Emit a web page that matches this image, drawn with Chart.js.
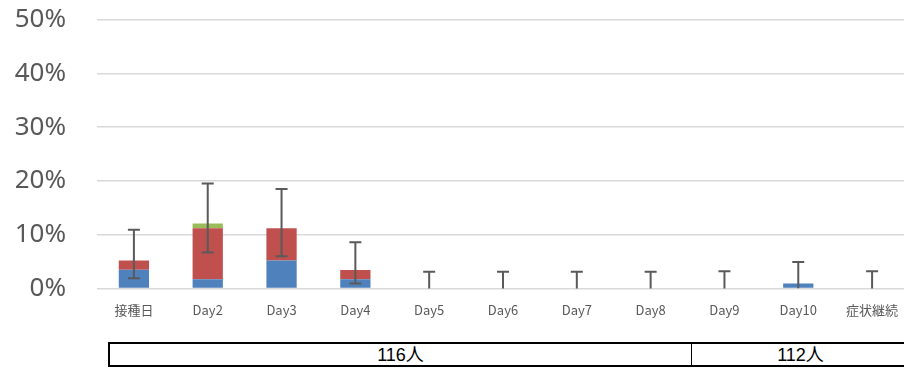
<!DOCTYPE html>
<html>
<head>
<meta charset="utf-8">
<script src="https://cdn.jsdelivr.net/npm/chart.js@4"></script>
<style>
  html, body { margin: 0; padding: 0; background: #fff; overflow: hidden; width: 904px; height: 368px; }
  #wrap { position: absolute; left: 0; top: -27px; width: 912px; height: 362px; }
  #box { position: absolute; left: 108px; top: 342px; width: 799px; height: 21px;
         border: 2px solid #000; box-sizing: content-box; display: flex;
         font-family: "Liberation Sans", "Noto Sans CJK JP", sans-serif; font-size: 18px; color: #000; }
  #box div { display: flex; align-items: center; justify-content: center; line-height: 1; }
  #c1 { width: 581px; border-right: 1px solid #000; }
  #c2 { flex: 1; }
</style>
</head>
<body>
<div id="wrap"><canvas id="chart"></canvas></div>
<div id="box"><div id="c1">116人</div><div id="c2">112人</div></div>
<script>
// Categories (day after vaccination)
const categories = ['接種日', 'Day2', 'Day3', 'Day4', 'Day5', 'Day6', 'Day7', 'Day8', 'Day9', 'Day10', '症状継続'];
// Stacked series, percent of respondents
const seriesBlue  = [3.45, 1.72, 5.17, 1.72, 0, 0, 0, 0, 0, 0.89, 0];
const seriesRed   = [1.72, 9.48, 6.03, 1.72, 0, 0, 0, 0, 0, 0, 0];
const seriesGreen = [0, 0.86, 0, 0, 0, 0, 0, 0, 0, 0, 0];
// Confidence interval bounds for the total, percent
const ciLow  = [1.9, 6.7, 6.0, 0.9, 0, 0, 0, 0, 0, 0.02, 0];
const ciHigh = [10.9, 19.5, 18.5, 8.6, 3.1, 3.1, 3.1, 3.1, 3.2, 4.9, 3.2];
// Y axis tick labels
const yTicks = ['0%', '10%', '20%', '30%', '40%', '50%'];

const errorBars = {
  id: 'errorBars',
  afterDatasetsDraw(chart) {
    const { ctx, scales: { x, y } } = chart;
    ctx.save();
    ctx.strokeStyle = '#5a5a5a';
    ctx.lineWidth = 2;
    const cap = 6;
    categories.forEach((_, i) => {
      const px = x.getPixelForValue(i);
      const top = y.getPixelForValue(ciHigh[i]);
      const bot = y.getPixelForValue(ciLow[i]);
      ctx.beginPath();
      ctx.moveTo(px, top);
      ctx.lineTo(px, bot);
      ctx.moveTo(px - cap, top);
      ctx.lineTo(px + cap, top);
      if (ciLow[i] > 0.05) {
        ctx.moveTo(px - cap, bot);
        ctx.lineTo(px + cap, bot);
      }
      ctx.stroke();
    });
    ctx.restore();
  }
};

const barCommon = { barPercentage: 0.41, categoryPercentage: 1, borderWidth: 0 };

new Chart(document.getElementById('chart'), {
  type: 'bar',
  data: {
    labels: categories,
    datasets: [
      { data: seriesBlue,  backgroundColor: '#4f81bd', ...barCommon },
      { data: seriesRed,   backgroundColor: '#c0504d', ...barCommon },
      { data: seriesGreen, backgroundColor: '#9bbb59', ...barCommon }
    ]
  },
  options: {
    responsive: true,
    maintainAspectRatio: false,
    animation: false,
    layout: { padding: { top: 18, left: 0, right: 3, bottom: 0 } },
    plugins: { legend: { display: false }, tooltip: { enabled: false } },
    scales: {
      x: {
        stacked: true,
        grid: { display: false },
        border: { display: false },
        ticks: { color: '#595959', font: { family: '"Noto Sans CJK JP", sans-serif', size: 13 }, padding: 6, maxRotation: 0, autoSkip: false },
        afterFit(s) { s.height = 44; }
      },
      y: {
        stacked: true,
        min: 0, max: 50,
        grid: { color: '#d9d9d9', lineWidth: 1.5, drawTicks: false },
        border: { display: false },
        ticks: {
          stepSize: 10,
          color: '#595959',
          font: { family: '"Noto Sans", sans-serif', size: 26 },
          padding: 31,
          callback: (v) => yTicks[Math.round(v / 10)]
        },
        afterFit(s) { s.width = 97; }
      }
    }
  },
  plugins: [errorBars]
});
</script>
</body>
</html>
